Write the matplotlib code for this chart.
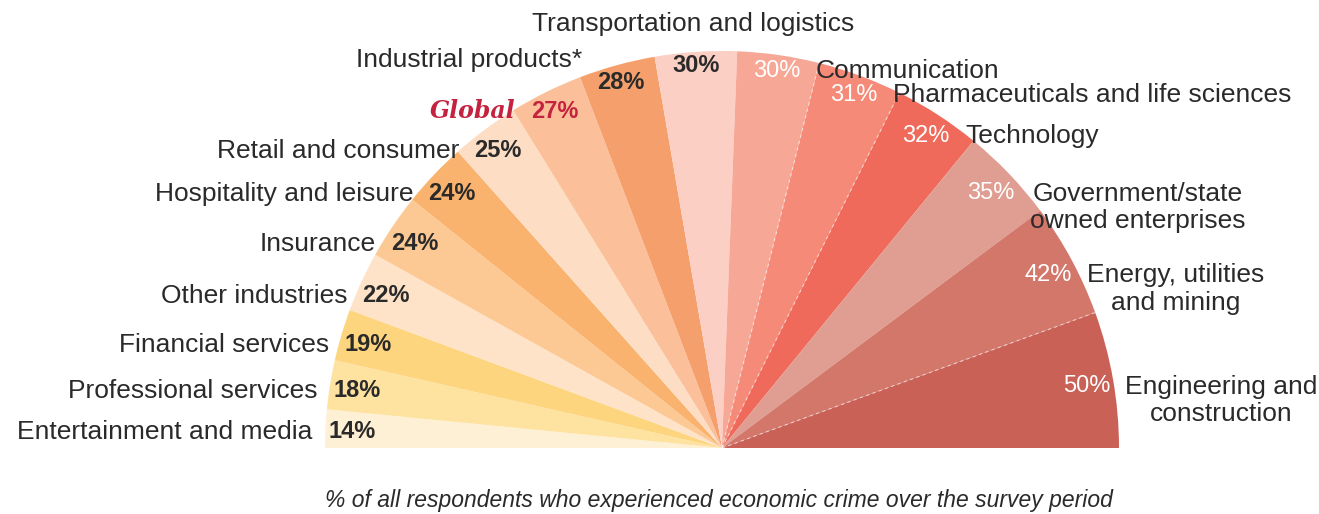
import numpy as np
import matplotlib.pyplot as plt
from matplotlib.patches import Wedge

plt.rcParams['font.family'] = ['Liberation Sans', 'DejaVu Sans']

# industries from left (180 deg) to right (0 deg)
industries = ['Entertainment and media', 'Professional services', 'Financial services',
              'Other industries', 'Insurance', 'Hospitality and leisure',
              'Retail and consumer', 'Global', 'Industrial products*',
              'Transportation and logistics', 'Communication',
              'Pharmaceuticals and life sciences', 'Technology',
              'Government/state\nowned enterprises', 'Energy, utilities\nand mining',
              'Engineering and\nconstruction']
# % of respondents who experienced economic crime
rates = [14, 18, 19, 22, 24, 24, 25, 27, 28, 30, 30, 31, 32, 35, 42, 50]

colors = ['#fef0d5', '#fee2a0', '#fed57f', '#fee3c8', '#fcc995', '#f9b36e',
          '#fdddc4', '#fbc099', '#f5a06c', '#fccfc4', '#f7a796', '#f48a77',
          '#ef6a5b', '#e09d91', '#d3776b', '#c96157']
dark = '#2a2a2a'
red = '#c42340'

fig = plt.figure(figsize=(13.19, 5.14), dpi=100)
ax = fig.add_axes([0, 0, 1, 1])
ax.set_xlim(0, 1319)
ax.set_ylim(0, 514)
ax.axis('off')

cx, cy, R = 722, 66, 397
edges = 180 - np.cumsum([0] + rates) / sum(rates) * 180

for i, name in enumerate(industries):
    ax.add_patch(Wedge((cx, cy), R, edges[i + 1], edges[i],
                       facecolor=colors[i], edgecolor='none'))

# faint dashed seams seen on the original
for i in [10, 11, 14]:
    a = np.radians(edges[i + 1])
    ax.plot([cx, cx + R * np.cos(a)], [cy, cy + R * np.sin(a)],
            color='white', lw=0.8, ls=(0, (3, 3)), alpha=0.6)

half_w, half_h, gap = 24, 8, 15
line_h = 28
for i, name in enumerate(industries):
    mid = np.radians((edges[i] + edges[i + 1]) / 2)
    c, s = np.cos(mid), np.sin(mid)
    r = R - (half_w * abs(c) + half_h * abs(s) + 2)
    px, py = cx + r * c, cy + r * s

    right_side = i >= 10
    if name == 'Global':
        pcol, pw = red, 'bold'
    elif right_side:
        pcol, pw = 'white', 'normal'
    else:
        pcol, pw = dark, 'bold'
    ax.text(px, py - 8.5, f'{rates[i]}%', ha='center', va='baseline',
            fontsize=17, color=pcol, fontweight=pw)

    if abs(c) < 0.1:
        ax.text(px - 3, py + 42 - 9.5, name, ha='center', va='baseline',
                fontsize=19, color=dark)
    elif c < 0:
        dy = 23 if c > -0.3 else 0
        if name == 'Global':
            ax.text(px - half_w - gap, py + dy - 8, name, ha='right', va='baseline',
                    fontsize=17, color=red, family='DejaVu Serif',
                    fontweight='bold', style='italic')
        else:
            ax.text(px - half_w - gap, py + dy - 9.5, name, ha='right', va='baseline',
                    fontsize=19, color=dark)
    else:
        extra = line_h * name.count('\n')
        ax.text(px + half_w + gap, py - 9.5 - extra, name, ha='left', va='baseline',
                fontsize=19, color=dark, multialignment='center', linespacing=1.19)

ax.text(719, 14, '% of all respondents who experienced economic crime over the survey period',
        ha='center', va='center', fontsize=16.5, style='italic', color=dark)

fig.savefig('out.png', dpi=100)
